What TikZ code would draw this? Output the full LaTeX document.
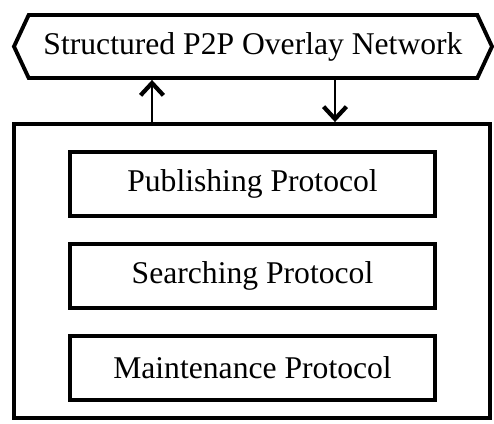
\documentclass[tikz,border=0pt]{standalone}
\usepackage{fontspec}
\setmainfont{Liberation Serif}
\usetikzlibrary{positioning,arrows.meta,shapes.symbols}

\begin{document}
\begin{tikzpicture}[
    frame/.style={draw,line width=2.2pt},
    protobox/.style={frame,minimum width=7.3cm,minimum height=1.28cm,
      font=\fontsize{18}{20}\selectfont},
    flow/.style={line width=1pt,
      -{Straight Barb[length=7pt,width=13pt,line width=2.4pt]}}
  ]
    \useasboundingbox (0,0) rectangle (9.88,-8.46);
    %%
    \node[frame,shape=signal,signal to=west and east,signal pointer angle=130,
      minimum width=9.56cm,minimum height=1.26cm,
      font=\fontsize{18}{20}\selectfont] (overlay) at (5.06,-0.93)
      {Structured P2P Overlay Network};
    \node[frame,minimum width=9.52cm,minimum height=5.88cm] (system) at (5.04,-5.42) {};
    %%
    \node[protobox] (publish) at (5.05,-3.68) {Publishing Protocol};
    \node[protobox,below=0.48cm of publish] (search) {Searching Protocol};
    \node[protobox,below=0.48cm of search] (maintain) {Maintenance Protocol};
    %%
    \draw[flow] (system.north -| 3.04,0) -- (overlay.south -| 3.04,0);
    \draw[flow] (overlay.south -| 6.70,0) -- (system.north -| 6.70,0);
  \end{tikzpicture}
\end{document}
